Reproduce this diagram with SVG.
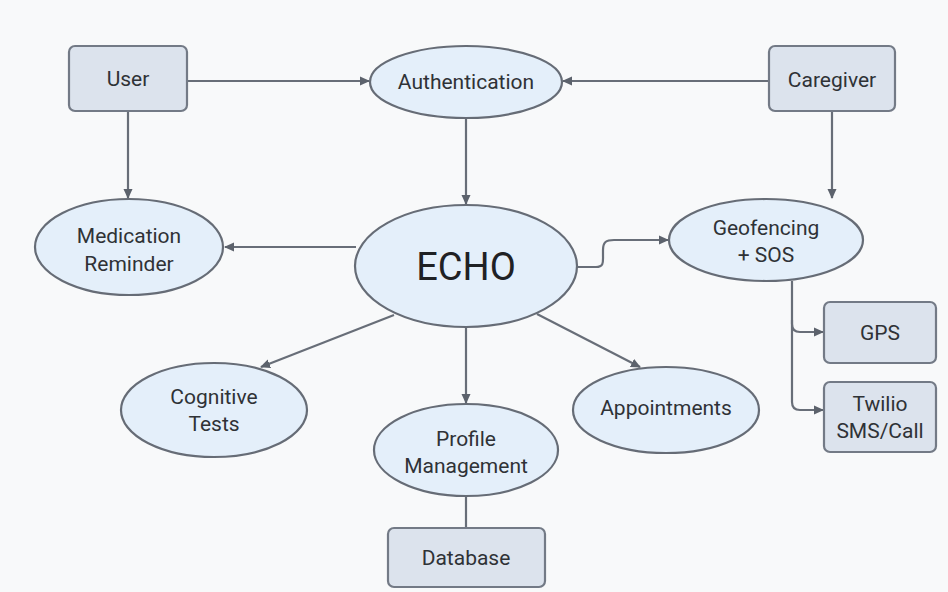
<svg xmlns="http://www.w3.org/2000/svg" width="948" height="592" viewBox="0 0 948 592">
<style>
.bg{fill:#f8f9fa}
.ell{fill:#e4effa;stroke:#666c76;stroke-width:2.2}
.box{fill:#dce3ed;stroke:#737a86;stroke-width:2.2}
.lbl{font-family:Roboto,"Liberation Sans",sans-serif;font-size:21px;fill:#2f3236;text-anchor:middle;dominant-baseline:central}
.big{font-size:38px;fill:#1f2124}
.edge{fill:none;stroke:#686e78;stroke-width:2.2}
</style>
<defs>
<marker id="arr" viewBox="0 0 10 10" refX="9" refY="5" markerWidth="10" markerHeight="10" markerUnits="userSpaceOnUse" orient="auto">
<path d="M0,0.5 L10,5 L0,9.5 z" fill="#5c626c"/>
</marker>
</defs>
<rect class="bg" x="0" y="0" width="948" height="592"/>
<g id="connectors">
<path class="edge" d="M187,81 H369" marker-end="url(#arr)"/>
<path class="edge" d="M769,81 H563" marker-end="url(#arr)"/>
<path class="edge" d="M128,111 V198" marker-end="url(#arr)"/>
<path class="edge" d="M832,111 V198" marker-end="url(#arr)"/>
<path class="edge" d="M466,118 V204" marker-end="url(#arr)"/>
<path class="edge" d="M356,247 H225" marker-end="url(#arr)"/>
<path class="edge" d="M577,267 H596 C604,267 603,262 603,255 V250 C603,242 606,240 614,240 H668" marker-end="url(#arr)"/>
<path class="edge" d="M394,315 L261,367" marker-end="url(#arr)"/>
<path class="edge" d="M466,327 V403" marker-end="url(#arr)"/>
<path class="edge" d="M537,314 L640,367" marker-end="url(#arr)"/>
<path class="edge" d="M466,497 V528"/>
<path class="edge" d="M792,281 V324 Q792,332 800,332 H823" marker-end="url(#arr)"/>
<path class="edge" d="M792,320 V402 Q792,410 800,410 H823" marker-end="url(#arr)"/>
</g>
<g id="user">
<rect class="box" x="69" y="46" width="118" height="65" rx="6"/>
<text class="lbl" x="128" y="79">User</text>
</g>
<g id="caregiver">
<rect class="box" x="769" y="46" width="126" height="65" rx="6"/>
<text class="lbl" x="832" y="80">Caregiver</text>
</g>
<g id="authentication">
<ellipse class="ell" cx="466" cy="82" rx="96" ry="36"/>
<text class="lbl" x="466" y="82">Authentication</text>
</g>
<g id="echo">
<ellipse class="ell" cx="466" cy="266" rx="111" ry="61"/>
<text class="lbl big" x="466" y="267">ECHO</text>
</g>
<g id="medication">
<ellipse class="ell" cx="129" cy="247" rx="94" ry="48"/>
<text class="lbl" x="129" y="236">Medication</text>
<text class="lbl" x="129" y="264">Reminder</text>
</g>
<g id="geofencing">
<ellipse class="ell" cx="766" cy="240" rx="97" ry="41"/>
<text class="lbl" x="766" y="228">Geofencing</text>
<text class="lbl" x="766" y="255">+ SOS</text>
</g>
<g id="gps">
<rect class="box" x="824" y="302" width="112" height="61" rx="6"/>
<text class="lbl" x="880" y="333">GPS</text>
</g>
<g id="twilio">
<rect class="box" x="824" y="382" width="112" height="70" rx="6"/>
<text class="lbl" x="880" y="404">Twilio</text>
<text class="lbl" x="880" y="431">SMS/Call</text>
</g>
<g id="cognitive">
<ellipse class="ell" cx="214" cy="410" rx="93" ry="47"/>
<text class="lbl" x="214" y="397">Cognitive</text>
<text class="lbl" x="214" y="424">Tests</text>
</g>
<g id="profile">
<ellipse class="ell" cx="466" cy="450" rx="92" ry="46"/>
<text class="lbl" x="466" y="439">Profile</text>
<text class="lbl" x="466" y="466">Management</text>
</g>
<g id="appointments">
<ellipse class="ell" cx="666" cy="410" rx="93" ry="43"/>
<text class="lbl" x="666" y="408">Appointments</text>
</g>
<g id="database">
<rect class="box" x="388" y="528" width="157" height="59" rx="6"/>
<text class="lbl" x="466" y="558">Database</text>
</g>
</svg>
